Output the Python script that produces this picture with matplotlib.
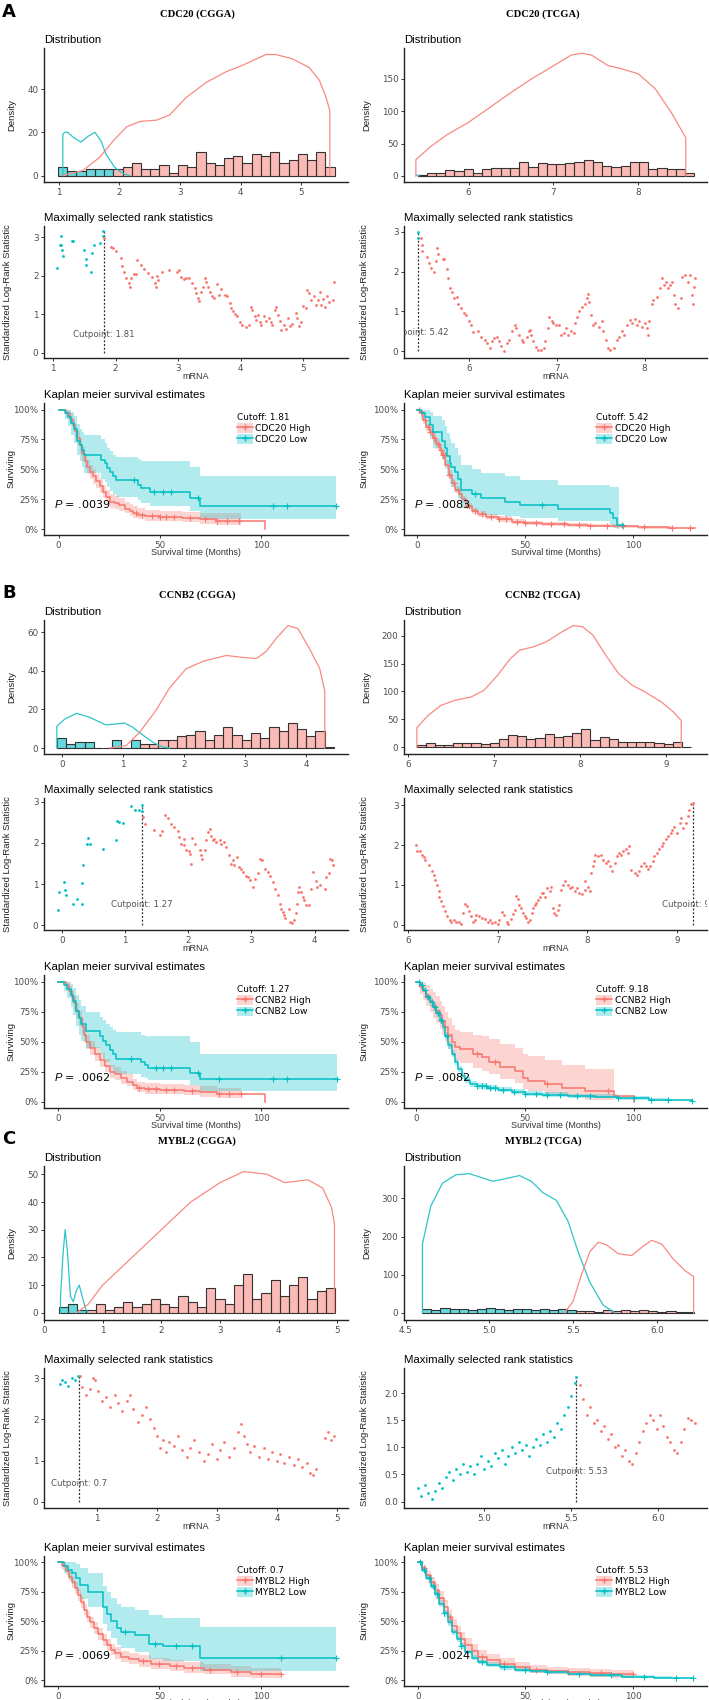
import matplotlib
matplotlib.use("Agg")
import matplotlib.pyplot as plt
from matplotlib.lines import Line2D
from matplotlib.patches import Patch
from matplotlib.colors import to_rgba
import numpy as np

plt.rcParams.update({
    "font.family": ["DejaVu Sans"],
    "mathtext.fontset": "custom",
    "mathtext.rm": "Liberation Sans",
    "mathtext.it": "Liberation Sans:italic",
})

RED = "#F8766D"
CYAN = "#00BFC4"
W, H = 709, 1700

# ── Distribution panels: histogram bins + density curves ─────────────────────
A1_BINW = 0.152
A1_LOW0, A1_LOW = 0.99, [4, 2, 2, 3, 3, 3]
A1_HIGH0, A1_HIGH = 1.902, [3, 4, 6, 3, 3, 5, 1, 5, 4, 11, 6, 5, 8, 9, 6, 10, 9, 11, 6, 7, 10, 7, 11, 4]
A1_DENS_LOW = [(1.07, 0), (1.07, 19), (1.1, 20), (1.15, 20), (1.25, 17.5), (1.37, 15.5), (1.48, 18),
               (1.6, 20), (1.7, 16), (1.78, 10), (1.85, 7), (1.92, 4), (2.0, 2), (2.1, 0.5), (2.17, 0)]
A1_DENS_HIGH = [(1.07, 0), (1.4, 2.3), (1.68, 8.5), (1.9, 16), (2.12, 22.5), (2.34, 25), (2.61, 25.6),
                (2.83, 28), (3.1, 36), (3.43, 43), (3.76, 48), (4.03, 51), (4.42, 56), (4.58, 56),
                (4.85, 54), (5.13, 50), (5.3, 44), (5.41, 36), (5.47, 30), (5.47, 0)]

A2_BINW = 0.1087
A2_LOW0, A2_LOW = 5.40, [1]
A2_HIGH0, A2_HIGH = 5.40, [2, 5, 5, 9, 7, 11, 5, 11, 12, 12, 12, 21, 13, 20, 19, 18, 20, 21, 24, 21,
                          15, 14, 15, 21, 22, 11, 12, 11, 10, 4]
A2_DENS_LOW = [(5.38, 0), (5.40, 1.5), (5.42, 0)]
A2_DENS_HIGH = [(5.38, 0), (5.38, 25), (5.55, 45), (5.75, 64), (5.99, 82), (6.22, 103), (6.5, 129),
                (6.74, 150), (7.01, 171), (7.21, 187), (7.33, 190), (7.45, 187), (7.64, 171), (7.8, 166),
                (8.0, 158), (8.2, 135), (8.39, 98), (8.56, 59), (8.56, 0)]

B1_BINW = 0.151
B1_LOW0, B1_LOW = -0.08, [5, 2, 3, 3, 0, 0, 4, 0, 4]
B1_HIGH0, B1_HIGH = 1.279, [2, 2, 4, 4, 6, 7, 9, 4, 7, 11, 7, 4, 8, 5, 11, 9, 13, 10, 6, 9, 0.5]
B1_DENS_LOW = [(-0.08, 0), (-0.08, 11.3), (0.05, 15), (0.24, 18), (0.45, 16), (0.72, 12), (0.9, 12.5),
               (1.02, 13), (1.15, 11), (1.27, 8), (1.49, 3), (1.65, 0.5), (1.76, 0)]
B1_DENS_HIGH = [(0.78, 0), (1.05, 1.2), (1.27, 8), (1.54, 19.5), (1.76, 31), (2.03, 41), (2.31, 45),
                (2.69, 48), (2.96, 47), (3.18, 46.4), (3.34, 50), (3.51, 57), (3.7, 63.5), (3.86, 62),
                (4.05, 51.6), (4.22, 41), (4.30, 29.4), (4.30, 0)]

B2_BINW = 0.1066
B2_LOW0, B2_LOW = 6.096, []
B2_HIGH0, B2_HIGH = 6.096, [4, 7, 5, 5, 8, 8, 8, 6, 7, 14, 22, 20, 14, 17, 24, 19, 20, 25, 32, 13,
                           19, 14, 9, 10, 10, 10, 7, 6, 9, 1]
B2_DENS_LOW = []
B2_DENS_HIGH = [(6.10, 0), (6.10, 35), (6.23, 57), (6.38, 75), (6.54, 84), (6.73, 90), (6.88, 102),
                (7.04, 129), (7.19, 159), (7.30, 174), (7.46, 180), (7.61, 189), (7.76, 204), (7.92, 218),
                (8.03, 216), (8.15, 201), (8.30, 165), (8.45, 132), (8.61, 111), (8.76, 99), (8.95, 81),
                (9.09, 63), (9.18, 48), (9.18, 0)]

C1_BINW = 0.157
C1_LOW0, C1_LOW = 0.25, [2, 3, 1]
C1_HIGH0, C1_HIGH = 0.721, [1, 3, 1, 2, 4, 2, 3, 5, 3, 2, 6, 4, 2, 9, 5, 3, 10, 14, 5, 7, 12, 6,
                            10, 13, 5, 8, 9]
C1_DENS_LOW = [(0.28, 0), (0.28, 5), (0.32, 20), (0.36, 30), (0.40, 22), (0.45, 6), (0.50, 4), (0.55, 8),
               (0.60, 10), (0.65, 6), (0.70, 2), (0.75, 0)]
C1_DENS_HIGH = [(0.55, 0), (0.75, 3), (1.0, 10), (1.5, 20), (2.0, 30), (2.5, 40), (3.0, 47), (3.4, 51),
                (3.8, 50), (4.1, 47), (4.5, 48), (4.75, 45), (4.9, 38), (4.95, 32), (4.95, 0)]

C2_BINW = 0.054
C2_LOW0, C2_LOW = 4.60, [10, 8, 12, 9, 11, 8, 10, 12, 9, 7, 11, 10, 8, 9, 6, 10, 8]
C2_HIGH0, C2_HIGH = 5.518, [4, 5, 3, 6, 5, 7, 4, 6, 5, 3, 4, 2, 3]
C2_DENS_LOW = [(4.6, 0), (4.6, 180), (4.65, 280), (4.72, 340), (4.8, 362), (4.88, 365), (4.95, 355),
               (5.02, 345), (5.1, 352), (5.18, 360), (5.25, 345), (5.32, 315), (5.4, 295), (5.47, 240),
               (5.53, 160), (5.6, 80), (5.68, 20), (5.75, 0)]
C2_DENS_HIGH = [(5.45, 0), (5.5, 30), (5.55, 100), (5.6, 160), (5.65, 185), (5.7, 178), (5.77, 155),
                (5.85, 150), (5.92, 175), (5.97, 190), (6.03, 180), (6.1, 140), (6.17, 110), (6.22, 95),
                (6.22, 0)]

# ── Maximally selected rank statistics: (mRNA, statistic) ────────────────────
A1_CUT = 1.81
A1_MS_LOW = [(1.07, 2.20), (1.11, 2.80), (1.12, 3.03), (1.13, 2.80), (1.15, 2.66), (1.16, 2.50),
             (1.30, 2.91), (1.32, 2.89), (1.49, 2.67), (1.52, 2.44), (1.53, 2.28), (1.60, 2.11),
             (1.63, 2.60), (1.66, 2.80), (1.75, 2.86), (1.80, 3.15), (1.80, 3.02)]
A1_MS_HIGH = [(1.81, 2.97), (1.93, 2.74), (1.96, 2.72), (2.01, 2.63), (2.08, 2.46), (2.11, 2.26),
              (2.13, 2.09), (2.17, 1.94), (2.22, 1.81), (2.23, 1.72), (2.25, 1.94), (2.29, 2.05),
              (2.32, 2.04), (2.35, 2.41), (2.40, 2.28), (2.46, 2.18), (2.52, 2.07), (2.59, 1.97),
              (2.63, 1.81), (2.65, 1.72), (2.66, 2.00), (2.68, 1.90), (2.75, 2.11), (2.86, 2.14),
              (2.98, 2.09), (3.02, 2.16), (3.05, 1.98), (3.09, 1.91), (3.13, 1.94), (3.18, 1.94),
              (3.23, 1.81), (3.27, 1.68), (3.29, 1.55), (3.32, 1.42), (3.34, 1.34), (3.36, 1.59),
              (3.40, 1.72), (3.43, 1.94), (3.45, 1.85), (3.48, 1.72), (3.51, 1.59), (3.54, 1.47),
              (3.57, 1.42), (3.62, 1.79), (3.65, 1.51), (3.68, 1.66), (3.75, 1.51), (3.78, 1.47),
              (3.83, 1.29), (3.85, 1.16), (3.88, 1.08), (3.91, 1.02), (3.94, 0.97), (3.99, 0.79),
              (4.03, 0.73), (4.09, 0.67), (4.14, 0.73), (4.16, 1.19), (4.19, 1.12), (4.23, 0.97),
              (4.25, 0.86), (4.28, 0.99), (4.31, 0.79), (4.33, 0.73), (4.37, 0.95), (4.41, 0.82),
              (4.46, 0.91), (4.48, 0.79), (4.51, 0.73), (4.55, 1.12), (4.57, 1.19), (4.60, 0.99),
              (4.63, 0.82), (4.65, 0.60), (4.69, 0.73), (4.73, 0.62), (4.76, 0.91), (4.79, 0.69),
              (4.83, 0.76), (4.88, 1.03), (4.90, 0.91), (4.94, 0.71), (4.97, 0.79), (5.00, 1.21),
              (5.04, 1.16), (5.06, 1.64), (5.10, 1.55), (5.13, 1.38), (5.17, 1.48), (5.20, 1.25),
              (5.24, 1.38), (5.27, 1.59), (5.29, 1.25), (5.32, 1.40), (5.35, 1.19), (5.38, 1.48),
              (5.42, 1.31), (5.48, 1.38), (5.50, 1.83)]

A2_CUT = 5.42
A2_MS_LOW = [(5.42, 3.00), (5.42, 2.84)]
A2_MS_HIGH = [(5.45, 2.84), (5.46, 2.66), (5.47, 2.53), (5.52, 2.37), (5.54, 2.22), (5.57, 2.09),
              (5.60, 1.99), (5.63, 2.28), (5.64, 2.59), (5.65, 2.45), (5.70, 2.31), (5.72, 2.32),
              (5.75, 2.07), (5.76, 1.83), (5.78, 1.58), (5.81, 1.48), (5.83, 1.33), (5.86, 1.37),
              (5.88, 1.20), (5.91, 1.08), (5.94, 0.95), (5.97, 0.91), (6.00, 0.75), (6.02, 0.66),
              (6.04, 0.48), (6.10, 0.50), (6.14, 0.37), (6.18, 0.29), (6.21, 0.21), (6.24, 0.08),
              (6.26, 0.25), (6.29, 0.33), (6.32, 0.37), (6.34, 0.25), (6.37, 0.12), (6.40, 0.00),
              (6.43, 0.21), (6.46, 0.29), (6.49, 0.50), (6.52, 0.66), (6.54, 0.58), (6.57, 0.42),
              (6.60, 0.29), (6.62, 0.23), (6.66, 0.37), (6.68, 0.50), (6.70, 0.54), (6.71, 0.42),
              (6.73, 0.25), (6.76, 0.10), (6.79, 0.02), (6.82, 0.04), (6.85, 0.08), (6.87, 0.25),
              (6.90, 0.58), (6.91, 0.87), (6.94, 0.75), (6.96, 0.71), (6.99, 0.66), (7.02, 0.65),
              (7.05, 0.42), (7.08, 0.46), (7.10, 0.58), (7.13, 0.42), (7.16, 0.50), (7.19, 0.46),
              (7.21, 0.71), (7.23, 0.87), (7.25, 1.00), (7.29, 1.12), (7.32, 1.20), (7.34, 1.33),
              (7.36, 1.45), (7.37, 1.24), (7.39, 0.91), (7.41, 0.66), (7.44, 0.71), (7.48, 0.62),
              (7.51, 0.75), (7.53, 0.50), (7.56, 0.29), (7.58, 0.08), (7.61, 0.02), (7.65, 0.08),
              (7.68, 0.29), (7.71, 0.37), (7.74, 0.50), (7.77, 0.42), (7.80, 0.66), (7.83, 0.79),
              (7.86, 0.71), (7.89, 0.81), (7.91, 0.66), (7.94, 0.75), (7.97, 0.62), (8.00, 0.71),
              (8.03, 0.58), (8.04, 0.42), (8.05, 0.75), (8.08, 1.20), (8.10, 1.29), (8.14, 1.37),
              (8.17, 1.58), (8.20, 1.84), (8.22, 1.66), (8.24, 1.74), (8.27, 1.58), (8.29, 1.66),
              (8.31, 1.74), (8.33, 1.41), (8.35, 1.20), (8.38, 1.08), (8.41, 1.33), (8.43, 1.87),
              (8.46, 1.91), (8.49, 1.74), (8.52, 1.91), (8.54, 1.41), (8.55, 1.20), (8.56, 1.62),
              (8.57, 1.83)]

B1_CUT = 1.27
B1_MS_LOW = [(-0.07, 0.37), (-0.05, 0.81), (0.03, 1.05), (0.04, 0.85), (0.07, 0.75), (0.18, 0.53),
             (0.23, 0.65), (0.31, 0.51), (0.32, 1.04), (0.33, 1.46), (0.41, 2.12), (0.40, 1.98),
             (0.44, 1.98), (0.65, 1.86), (0.85, 2.08), (0.87, 2.54), (0.90, 2.52), (0.96, 2.49),
             (1.10, 2.90), (1.15, 2.80), (1.22, 2.80), (1.27, 2.93), (1.27, 2.78)]
B1_MS_HIGH = [(1.29, 2.62), (1.32, 2.45), (1.45, 2.32), (1.55, 2.20), (1.59, 2.30), (1.63, 2.69),
              (1.68, 2.61), (1.73, 2.45), (1.77, 2.38), (1.84, 2.30), (1.86, 2.14), (1.89, 1.98),
              (1.93, 1.94), (1.94, 2.10), (1.97, 1.82), (2.01, 1.80), (2.03, 1.74), (2.05, 1.50),
              (2.06, 2.12), (2.10, 1.98), (2.18, 1.82), (2.20, 1.70), (2.22, 1.62), (2.26, 1.82),
              (2.28, 2.06), (2.31, 2.26), (2.34, 2.34), (2.36, 2.16), (2.39, 2.08), (2.41, 2.10),
              (2.44, 2.02), (2.50, 2.06), (2.52, 1.98), (2.56, 2.02), (2.59, 1.90), (2.65, 1.70),
              (2.68, 1.50), (2.71, 1.58), (2.73, 1.46), (2.77, 1.66), (2.80, 1.42), (2.84, 1.38),
              (2.87, 1.30), (2.91, 1.21), (2.94, 1.17), (2.97, 1.11), (3.02, 0.93), (3.06, 1.13),
              (3.10, 1.26), (3.14, 1.62), (3.17, 1.58), (3.21, 1.38), (3.26, 1.30), (3.29, 1.21),
              (3.34, 1.05), (3.38, 0.89), (3.42, 0.73), (3.45, 0.53), (3.47, 0.41), (3.50, 0.33),
              (3.52, 0.25), (3.54, 0.17), (3.60, 0.41), (3.61, 0.09), (3.65, 0.05), (3.68, 0.13),
              (3.70, 0.31), (3.72, 0.53), (3.74, 0.81), (3.76, 0.93), (3.79, 0.81), (3.82, 0.69),
              (3.84, 0.61), (3.87, 0.49), (3.91, 0.49), (3.95, 0.89), (3.98, 1.30), (4.02, 1.09),
              (4.04, 0.93), (4.09, 0.97), (4.16, 0.89), (4.18, 1.17), (4.23, 1.26), (4.25, 1.62),
              (4.28, 1.58), (4.30, 1.46)]

B2_CUT = 9.18
B2_MS_LOW = []
B2_MS_HIGH = [(6.09, 2.01), (6.10, 1.86), (6.13, 1.84), (6.16, 1.76), (6.18, 1.70), (6.19, 1.63),
              (6.23, 1.51), (6.27, 1.34), (6.29, 1.26), (6.30, 1.13), (6.32, 1.00), (6.34, 0.84),
              (6.35, 0.71), (6.37, 0.59), (6.39, 0.46), (6.41, 0.34), (6.44, 0.21), (6.47, 0.13),
              (6.48, 0.08), (6.51, 0.13), (6.54, 0.08), (6.57, 0.06), (6.59, 0.02), (6.61, 0.29),
              (6.64, 0.53), (6.66, 0.46), (6.68, 0.34), (6.70, 0.21), (6.72, 0.08), (6.75, 0.13),
              (6.76, 0.25), (6.79, 0.21), (6.82, 0.17), (6.86, 0.14), (6.89, 0.08), (6.91, 0.13),
              (6.94, 0.04), (6.97, 0.08), (7.00, 0.03), (7.02, 0.13), (7.05, 0.31), (7.07, 0.25),
              (7.10, 0.08), (7.12, 0.03), (7.15, 0.14), (7.17, 0.28), (7.19, 0.38), (7.21, 0.73),
              (7.23, 0.65), (7.24, 0.50), (7.26, 0.42), (7.28, 0.29), (7.30, 0.21), (7.32, 0.17),
              (7.34, 0.08), (7.36, 0.13), (7.38, 0.29), (7.40, 0.42), (7.42, 0.50), (7.43, 0.54),
              (7.45, 0.63), (7.47, 0.71), (7.49, 0.80), (7.51, 0.81), (7.53, 0.71), (7.55, 0.92),
              (7.58, 0.84), (7.60, 0.96), (7.62, 0.42), (7.63, 0.29), (7.65, 0.25), (7.67, 0.38),
              (7.68, 0.50), (7.71, 0.88), (7.73, 1.01), (7.75, 1.09), (7.78, 1.01), (7.81, 0.92),
              (7.83, 0.96), (7.86, 0.84), (7.88, 0.92), (7.91, 0.80), (7.94, 0.78), (7.97, 0.88),
              (7.98, 1.09), (8.01, 0.96), (8.03, 0.84), (8.04, 1.30), (8.06, 1.47), (8.08, 1.59),
              (8.09, 1.76), (8.12, 1.72), (8.15, 1.76), (8.18, 1.63), (8.21, 1.55), (8.23, 1.59),
              (8.25, 1.47), (8.28, 1.34), (8.31, 1.55), (8.33, 1.72), (8.35, 1.80), (8.38, 1.76),
              (8.40, 1.84), (8.43, 1.89), (8.45, 1.80), (8.47, 1.97), (8.49, 1.38), (8.53, 1.30),
              (8.55, 1.26), (8.58, 1.34), (8.60, 1.47), (8.63, 1.55), (8.65, 1.47), (8.68, 1.40),
              (8.70, 1.47), (8.73, 1.59), (8.75, 1.72), (8.78, 1.80), (8.80, 1.89), (8.83, 1.97),
              (8.85, 2.04), (8.88, 2.14), (8.90, 2.22), (8.93, 2.31), (8.95, 2.39), (8.97, 2.46),
              (9.00, 2.31), (9.03, 2.56), (9.05, 2.68), (9.07, 2.43), (9.10, 2.56), (9.12, 2.74),
              (9.14, 2.89), (9.16, 3.02), (9.18, 3.06)]

C1_CUT = 0.7
C1_MS_LOW = [(0.38, 2.85), (0.42, 2.95), (0.47, 2.90), (0.52, 2.82), (0.58, 3.00), (0.63, 2.95), (0.68, 3.05)]
C1_MS_HIGH = [(0.72, 3.05), (0.75, 2.80), (0.82, 2.60), (0.88, 2.75), (0.93, 3.00), (0.97, 2.95),
              (1.02, 2.70), (1.08, 2.45), (1.15, 2.55), (1.22, 2.30), (1.30, 2.60), (1.36, 2.40),
              (1.42, 2.20), (1.50, 2.45), (1.55, 2.60), (1.60, 2.25), (1.68, 1.95), (1.75, 2.10),
              (1.82, 2.30), (1.88, 2.00), (1.95, 1.80), (2.00, 1.60), (2.05, 1.30), (2.10, 1.50),
              (2.15, 1.20), (2.20, 1.45), (2.28, 1.35), (2.35, 1.60), (2.42, 1.25), (2.50, 1.10),
              (2.55, 1.30), (2.62, 1.50), (2.70, 1.20), (2.78, 1.00), (2.85, 1.15), (2.92, 1.40),
              (3.00, 1.05), (3.05, 1.25), (3.12, 1.45), (3.20, 1.10), (3.28, 1.30), (3.35, 1.70),
              (3.40, 1.90), (3.45, 1.60), (3.50, 1.40), (3.55, 1.20), (3.62, 1.35), (3.70, 1.10),
              (3.78, 1.30), (3.85, 1.05), (3.92, 1.20), (4.00, 1.00), (4.05, 1.15), (4.12, 0.95),
              (4.20, 1.10), (4.28, 0.90), (4.35, 1.05), (4.42, 0.85), (4.50, 0.95), (4.55, 0.70),
              (4.60, 0.65), (4.65, 0.80), (4.80, 1.55), (4.85, 1.70), (4.90, 1.50), (4.95, 1.60)]

C2_CUT = 5.53
C2_MS_LOW = [(4.62, 0.25), (4.64, 0.10), (4.66, 0.30), (4.68, 0.15), (4.70, 0.05), (4.72, 0.20),
             (4.74, 0.35), (4.76, 0.25), (4.78, 0.45), (4.80, 0.55), (4.82, 0.40), (4.84, 0.60),
             (4.86, 0.50), (4.88, 0.70), (4.90, 0.55), (4.92, 0.65), (4.94, 0.50), (4.96, 0.70),
             (4.98, 0.85), (5.00, 0.60), (5.02, 0.75), (5.04, 0.65), (5.06, 0.90), (5.08, 0.80),
             (5.10, 0.95), (5.12, 0.70), (5.14, 0.85), (5.16, 1.00), (5.18, 0.90), (5.20, 1.10),
             (5.22, 0.95), (5.24, 1.05), (5.26, 0.85), (5.28, 1.00), (5.30, 1.15), (5.32, 1.05),
             (5.34, 1.25), (5.36, 1.10), (5.38, 1.30), (5.40, 1.20), (5.42, 1.45), (5.44, 1.35),
             (5.46, 1.60), (5.48, 1.75), (5.50, 1.95), (5.52, 2.20), (5.53, 2.30)]
C2_MS_HIGH = [(5.55, 2.15), (5.57, 1.90), (5.59, 1.60), (5.61, 1.75), (5.63, 1.45), (5.65, 1.50),
              (5.67, 1.30), (5.69, 1.40), (5.71, 1.15), (5.73, 1.25), (5.75, 1.00), (5.77, 1.05),
              (5.79, 0.85), (5.81, 0.95), (5.83, 0.75), (5.85, 0.70), (5.87, 0.90), (5.89, 1.10),
              (5.91, 1.30), (5.93, 1.45), (5.95, 1.60), (5.97, 1.50), (5.99, 1.35), (6.01, 1.60),
              (6.03, 1.40), (6.05, 1.20), (6.07, 1.10), (6.09, 0.95), (6.11, 0.90), (6.13, 1.10),
              (6.15, 1.35), (6.17, 1.55), (6.19, 1.50), (6.21, 1.45)]

# ── Kaplan-Meier: steps (t, S), CI bands (t, lower, upper), censor times ─────
A1_KM_HIGH = [(0, 1.0), (3.8, 0.97), (5.4, 0.92), (7.1, 0.87), (7.9, 0.82), (9.0, 0.76), (10.4, 0.70),
              (11.7, 0.63), (12.8, 0.57), (14.0, 0.52), (15.3, 0.48), (17.0, 0.44), (18.6, 0.40),
              (20.2, 0.36), (21.9, 0.31), (23.5, 0.27), (25.2, 0.23), (27.6, 0.22), (30.0, 0.20),
              (32.6, 0.17), (35.0, 0.15), (36.7, 0.13), (39.0, 0.12), (42.4, 0.11), (50.0, 0.10),
              (61.0, 0.09), (69.6, 0.08), (77.8, 0.07), (101.6, 0.0)]
A1_CI_HIGH = [(0, 1.0, 1.0), (3.8, 0.94, 1.0), (5.4, 0.88, 0.96), (7.1, 0.82, 0.92), (7.9, 0.77, 0.88),
              (9.0, 0.70, 0.82), (10.4, 0.64, 0.76), (11.7, 0.57, 0.69), (12.8, 0.51, 0.63),
              (14.0, 0.46, 0.58), (15.3, 0.42, 0.54), (17.0, 0.38, 0.50), (18.6, 0.34, 0.46),
              (20.2, 0.30, 0.42), (21.9, 0.26, 0.37), (23.5, 0.22, 0.33), (25.2, 0.18, 0.29),
              (27.6, 0.17, 0.28), (30.0, 0.15, 0.26), (32.6, 0.13, 0.23), (35.0, 0.11, 0.21),
              (36.7, 0.09, 0.19), (39.0, 0.08, 0.18), (42.4, 0.07, 0.16), (50.0, 0.065, 0.15),
              (61.0, 0.055, 0.14), (69.6, 0.045, 0.135), (77.8, 0.035, 0.13), (90.0, 0.035, 0.13)]
A1_CENS_HIGH = [38, 41, 46, 50, 53, 57, 65, 72, 78, 83, 89]
A1_KM_LOW = [(0, 1.0), (3.0, 0.97), (4.6, 0.94), (6.2, 0.89), (7.4, 0.84), (9.0, 0.74), (10.4, 0.70),
             (11.5, 0.66), (12.3, 0.62), (21.0, 0.58), (22.7, 0.55), (23.8, 0.51), (25.2, 0.48),
             (26.8, 0.44), (28.1, 0.41), (39.0, 0.37), (40.8, 0.34), (44.9, 0.31), (65.0, 0.26),
             (69.6, 0.19), (137.0, 0.19)]
A1_CI_LOW = [(0, 1.0, 1.0), (3.0, 0.92, 1.0), (4.6, 0.86, 1.0), (6.2, 0.79, 0.98), (7.4, 0.72, 0.95),
             (9.0, 0.62, 0.88), (10.4, 0.57, 0.84), (11.5, 0.52, 0.81), (12.3, 0.47, 0.79),
             (21.0, 0.42, 0.75), (22.7, 0.39, 0.72), (23.8, 0.35, 0.68), (25.2, 0.32, 0.65),
             (26.8, 0.29, 0.62), (28.1, 0.27, 0.60), (39.0, 0.24, 0.59), (40.8, 0.22, 0.57),
             (44.9, 0.19, 0.57), (65.0, 0.15, 0.52), (69.6, 0.08, 0.44), (137.0, 0.08, 0.44)]
A1_CENS_LOW = [37, 47, 51.5, 55.6, 68.7, 105.7, 112.7, 137]

A2_KM_HIGH = [(0, 1.0), (1.2, 0.98), (2.8, 0.91), (4.3, 0.85), (5.9, 0.81), (7.4, 0.76), (9.0, 0.71),
              (10.5, 0.66), (11.6, 0.62), (13.1, 0.54), (14.7, 0.455), (16.2, 0.386), (17.7, 0.33),
              (19.3, 0.29), (20.8, 0.25), (22.8, 0.193), (25.2, 0.15), (28.2, 0.124), (32, 0.102),
              (37.5, 0.083), (43.7, 0.063), (49.8, 0.05), (57.6, 0.041), (70, 0.033), (79, 0.028),
              (91.5, 0.022), (102, 0.014), (116, 0.011), (128.5, 0.008)]
A2_CI_HIGH = [(0, 1.0, 1.0), (1.2, 0.96, 1.0), (2.8, 0.88, 0.94), (4.3, 0.82, 0.88), (5.9, 0.78, 0.84),
              (7.4, 0.72, 0.80), (9.0, 0.67, 0.75), (10.5, 0.62, 0.70), (11.6, 0.58, 0.66),
              (13.1, 0.50, 0.58), (14.7, 0.42, 0.49), (16.2, 0.35, 0.42), (17.7, 0.30, 0.36),
              (19.3, 0.26, 0.32), (20.8, 0.22, 0.28), (22.8, 0.165, 0.22), (25.2, 0.125, 0.18),
              (28.2, 0.10, 0.15), (32, 0.08, 0.125), (37.5, 0.063, 0.105), (43.7, 0.045, 0.083),
              (49.8, 0.034, 0.068), (57.6, 0.026, 0.058), (70, 0.019, 0.05), (79, 0.015, 0.043),
              (91.5, 0.010, 0.036), (102, 0.004, 0.026), (116, 0.002, 0.022), (118, 0.002, 0.022)]
A2_CENS_HIGH = [1, 2, 3.5, 5, 6, 7, 8, 9.5, 11, 12, 13, 15, 17, 19, 24, 27, 30, 34, 38, 41, 46, 50, 55,
                62, 68, 75, 80, 88, 95, 105, 118, 126]
A2_KM_LOW = [(0, 1.0), (2, 0.97), (3.5, 0.94), (5.9, 0.87), (7.4, 0.81), (11.6, 0.74), (12.8, 0.68),
             (13.9, 0.61), (15.1, 0.55), (15.9, 0.52), (17.4, 0.48), (19.0, 0.42), (20.5, 0.33),
             (25.2, 0.29), (29.8, 0.26), (40.6, 0.23), (47.5, 0.20), (65.3, 0.17), (89.0, 0.13),
             (90.7, 0.09), (92.3, 0.03), (95.4, 0.03)]
A2_CI_LOW = [(0, 1.0, 1.0), (2, 0.92, 1.0), (3.5, 0.86, 1.0), (5.9, 0.76, 0.98), (7.4, 0.68, 0.95),
             (11.6, 0.59, 0.91), (12.8, 0.52, 0.86), (13.9, 0.45, 0.80), (15.1, 0.38, 0.75),
             (15.9, 0.35, 0.72), (17.4, 0.31, 0.68), (19.0, 0.25, 0.62), (20.5, 0.18, 0.54),
             (25.2, 0.15, 0.50), (29.8, 0.12, 0.47), (40.6, 0.11, 0.44), (47.5, 0.09, 0.41),
             (65.3, 0.07, 0.37), (89.0, 0.04, 0.35), (90.7, 0.01, 0.35), (92.3, 0.0, 0.35), (93.5, 0.0, 0.35)]
A2_CENS_LOW = [27, 57.6, 94.5]

B1_KM_HIGH = [(0, 1.0), (3.8, 0.97), (5.4, 0.92), (7.1, 0.87), (7.9, 0.82), (9.0, 0.76), (10.4, 0.70),
              (11.7, 0.63), (12.8, 0.56), (13.6, 0.50), (15.5, 0.45), (18.0, 0.40), (20.5, 0.35),
              (23.0, 0.30), (25.4, 0.25), (28.0, 0.23), (31.0, 0.20), (34.0, 0.17), (36.9, 0.14),
              (39.0, 0.12), (42.6, 0.11), (50.0, 0.10), (62.0, 0.09), (69.7, 0.08), (78.0, 0.065),
              (101.6, 0.0)]
B1_CI_HIGH = [(0, 1.0, 1.0), (3.8, 0.94, 1.0), (5.4, 0.88, 0.96), (7.1, 0.82, 0.92), (7.9, 0.77, 0.88),
              (9.0, 0.70, 0.82), (10.4, 0.64, 0.76), (11.7, 0.57, 0.69), (12.8, 0.50, 0.62),
              (13.6, 0.44, 0.56), (15.5, 0.39, 0.51), (18.0, 0.34, 0.46), (20.5, 0.29, 0.41),
              (23.0, 0.25, 0.36), (25.4, 0.20, 0.31), (28.0, 0.18, 0.29), (31.0, 0.15, 0.26),
              (34.0, 0.13, 0.23), (36.9, 0.10, 0.19), (39.0, 0.08, 0.17), (42.6, 0.07, 0.16),
              (50.0, 0.065, 0.15), (62.0, 0.055, 0.14), (69.7, 0.045, 0.13), (78.0, 0.03, 0.12),
              (90.0, 0.03, 0.12)]
B1_CENS_HIGH = [40, 44, 48, 53, 57, 66, 79, 84, 90]
B1_KM_LOW = [(0, 1.0), (3, 0.97), (4.6, 0.94), (6.2, 0.89), (7.4, 0.84), (9.0, 0.76), (10.4, 0.70),
             (11.5, 0.65), (13.6, 0.59), (20.5, 0.55), (22.1, 0.51), (23.8, 0.47), (25.4, 0.43),
             (27.0, 0.40), (28.4, 0.36), (40.9, 0.33), (42.6, 0.31), (44.3, 0.28), (65.0, 0.24),
             (69.7, 0.19), (137, 0.19)]
B1_CI_LOW = [(0, 1.0, 1.0), (3, 0.92, 1.0), (4.6, 0.86, 1.0), (6.2, 0.79, 0.98), (7.4, 0.72, 0.95),
             (9.0, 0.63, 0.89), (10.4, 0.56, 0.85), (11.5, 0.51, 0.80), (13.6, 0.45, 0.75),
             (20.5, 0.40, 0.71), (22.1, 0.36, 0.68), (23.8, 0.33, 0.65), (25.4, 0.29, 0.62),
             (27.0, 0.26, 0.60), (28.4, 0.23, 0.58), (40.9, 0.21, 0.56), (42.6, 0.20, 0.55),
             (44.3, 0.18, 0.55), (65.0, 0.14, 0.50), (69.7, 0.09, 0.40), (137, 0.09, 0.40)]
B1_CENS_LOW = [36, 48, 51.6, 55.7, 68.9, 79, 105.7, 112.6, 137]

B2_KM_HIGH = [(0, 1.0), (1.5, 0.96), (3.0, 0.92), (4.6, 0.88), (6.2, 0.84), (7.7, 0.80), (9.2, 0.76),
              (10.8, 0.72), (11.8, 0.67), (13.1, 0.62), (14.6, 0.56), (16.2, 0.50), (17.7, 0.46),
              (20.0, 0.44), (26.2, 0.40), (30.0, 0.37), (33.5, 0.335), (38.5, 0.29), (45.4, 0.26),
              (49.2, 0.20), (51.5, 0.175), (59.2, 0.15), (66.9, 0.12), (77.7, 0.09), (90.8, 0.05),
              (100.0, 0.0)]
B2_CI_HIGH = [(0, 1.0, 1.0), (1.5, 0.90, 1.0), (3.0, 0.85, 1.0), (4.6, 0.80, 0.97), (6.2, 0.75, 0.94),
              (7.7, 0.70, 0.91), (9.2, 0.66, 0.88), (10.8, 0.61, 0.84), (11.8, 0.56, 0.80),
              (13.1, 0.50, 0.75), (14.6, 0.44, 0.70), (16.2, 0.38, 0.64), (17.7, 0.34, 0.60),
              (20.0, 0.32, 0.58), (26.2, 0.28, 0.56), (30.0, 0.26, 0.55), (33.5, 0.23, 0.52),
              (38.5, 0.19, 0.48), (45.4, 0.16, 0.45), (49.2, 0.11, 0.40), (51.5, 0.09, 0.38),
              (59.2, 0.07, 0.35), (66.9, 0.05, 0.31), (77.7, 0.02, 0.27), (91.0, 0.02, 0.27)]
B2_CENS_HIGH = [2, 5, 8, 12, 28, 36, 60, 88]
B2_KM_LOW = [(0, 1.0), (1.5, 0.97), (3.1, 0.93), (4.6, 0.87), (6.2, 0.83), (7.7, 0.79), (9.2, 0.74),
             (10.8, 0.68), (12.3, 0.62), (13.4, 0.55), (14.6, 0.47), (16.2, 0.40), (17.7, 0.33),
             (19.2, 0.27), (20.8, 0.22), (22.3, 0.18), (24.6, 0.15), (27.7, 0.13), (32.3, 0.12),
             (37.7, 0.10), (43.8, 0.085), (50, 0.07), (57.7, 0.06), (70, 0.05), (82.3, 0.045),
             (93, 0.03), (107, 0.02), (116, 0.015), (127, 0.01)]
B2_CI_LOW = [(0, 1.0, 1.0), (1.5, 0.95, 0.99), (3.1, 0.91, 0.95), (4.6, 0.85, 0.90), (6.2, 0.80, 0.86),
             (7.7, 0.76, 0.82), (9.2, 0.71, 0.77), (10.8, 0.65, 0.71), (12.3, 0.59, 0.65),
             (13.4, 0.52, 0.58), (14.6, 0.44, 0.50), (16.2, 0.37, 0.43), (17.7, 0.30, 0.36),
             (19.2, 0.245, 0.30), (20.8, 0.195, 0.25), (22.3, 0.155, 0.21), (24.6, 0.128, 0.175),
             (27.7, 0.108, 0.155), (32.3, 0.098, 0.145), (37.7, 0.08, 0.122), (43.8, 0.066, 0.106),
             (50, 0.052, 0.09), (57.7, 0.043, 0.079), (70, 0.034, 0.068), (82.3, 0.029, 0.063),
             (93, 0.016, 0.046), (107, 0.008, 0.034), (116, 0.005, 0.027), (118, 0.005, 0.027)]
B2_CENS_LOW = [1, 2.5, 4, 5.5, 7, 8.5, 10, 11.5, 14, 28, 30, 32, 34, 36, 40, 45, 50, 55, 60, 66, 74, 80,
               93, 100, 108, 116, 127]

C1_KM_HIGH = [(0, 1.0), (2, 0.97), (4, 0.93), (5.5, 0.88), (7, 0.83), (8.5, 0.78), (10, 0.72),
              (11.5, 0.66), (13, 0.60), (14.5, 0.54), (16, 0.49), (18, 0.44), (20, 0.39), (22, 0.34),
              (24, 0.30), (26, 0.26), (28, 0.23), (31, 0.20), (35, 0.18), (40, 0.16), (46, 0.14),
              (55, 0.12), (62, 0.10), (72, 0.09), (85, 0.07), (95, 0.05), (110, 0.05)]
C1_CI_HIGH = [(0, 1.0, 1.0), (2, 0.94, 1.0), (4, 0.89, 0.97), (5.5, 0.84, 0.92), (7, 0.78, 0.88),
              (8.5, 0.73, 0.83), (10, 0.67, 0.77), (11.5, 0.61, 0.71), (13, 0.55, 0.65), (14.5, 0.49, 0.59),
              (16, 0.44, 0.54), (18, 0.39, 0.49), (20, 0.34, 0.44), (22, 0.29, 0.39), (24, 0.25, 0.35),
              (26, 0.21, 0.31), (28, 0.18, 0.28), (31, 0.155, 0.25), (35, 0.135, 0.23), (40, 0.115, 0.21),
              (46, 0.095, 0.19), (55, 0.08, 0.17), (62, 0.06, 0.15), (72, 0.05, 0.14), (85, 0.03, 0.12),
              (95, 0.015, 0.10), (110, 0.015, 0.10)]
C1_CENS_HIGH = [42, 50, 58, 66, 75, 88, 100, 110]
C1_KM_LOW = [(0, 1.0), (3, 0.97), (5, 0.94), (7, 0.91), (9, 0.87), (11, 0.81), (15, 0.75), (22, 0.62),
             (24, 0.56), (26, 0.50), (29, 0.44), (31, 0.41), (38, 0.38), (45, 0.31), (52, 0.29),
             (70, 0.19), (137, 0.19)]
C1_CI_LOW = [(0, 1.0, 1.0), (3, 0.91, 1.0), (5, 0.86, 1.0), (7, 0.82, 1.0), (9, 0.76, 0.99),
             (11, 0.69, 0.95), (15, 0.62, 0.91), (22, 0.48, 0.80), (24, 0.42, 0.75), (26, 0.36, 0.70),
             (29, 0.30, 0.65), (31, 0.27, 0.62), (38, 0.24, 0.60), (45, 0.18, 0.55), (52, 0.16, 0.53),
             (70, 0.08, 0.45), (137, 0.08, 0.45)]
C1_CENS_LOW = [33, 48, 58, 66, 110, 137]

C2_KM_HIGH = [(0, 1.0), (2, 0.95), (4, 0.89), (6, 0.83), (8, 0.77), (10, 0.70), (12, 0.62), (14, 0.54),
              (16, 0.46), (18, 0.40), (20, 0.35), (22, 0.30), (25, 0.25), (28, 0.20), (32, 0.17),
              (38, 0.14), (45, 0.11), (52, 0.09), (60, 0.08), (70, 0.07), (80, 0.06), (90, 0.05),
              (100, 0.05)]
C2_CI_HIGH = [(0, 1.0, 1.0), (2, 0.92, 0.98), (4, 0.85, 0.93), (6, 0.78, 0.88), (8, 0.72, 0.82),
              (10, 0.65, 0.76), (12, 0.56, 0.68), (14, 0.48, 0.60), (16, 0.40, 0.52), (18, 0.34, 0.46),
              (20, 0.29, 0.41), (22, 0.24, 0.36), (25, 0.20, 0.31), (28, 0.15, 0.26), (32, 0.125, 0.22),
              (38, 0.10, 0.185), (45, 0.075, 0.15), (52, 0.058, 0.125), (60, 0.048, 0.115),
              (70, 0.038, 0.105), (80, 0.03, 0.095), (90, 0.02, 0.085), (100, 0.02, 0.085)]
C2_CENS_HIGH = [3, 6, 10, 15, 30, 40, 55, 70, 85, 100]
C2_KM_LOW = [(0, 1.0), (2, 0.94), (4, 0.87), (6, 0.80), (8, 0.73), (10, 0.65), (12, 0.57), (14, 0.49),
             (16, 0.41), (18, 0.35), (20, 0.29), (22, 0.24), (25, 0.19), (28, 0.155), (32, 0.13),
             (38, 0.11), (45, 0.09), (52, 0.075), (60, 0.065), (70, 0.055), (80, 0.045), (95, 0.03),
             (110, 0.02), (128, 0.02)]
C2_CI_LOW = [(0, 1.0, 1.0), (2, 0.92, 0.96), (4, 0.85, 0.89), (6, 0.775, 0.825), (8, 0.70, 0.76),
             (10, 0.62, 0.68), (12, 0.54, 0.60), (14, 0.46, 0.52), (16, 0.385, 0.435), (18, 0.325, 0.375),
             (20, 0.265, 0.315), (22, 0.22, 0.26), (25, 0.17, 0.21), (28, 0.135, 0.175), (32, 0.11, 0.15),
             (38, 0.09, 0.13), (45, 0.072, 0.11), (52, 0.058, 0.092), (60, 0.048, 0.082),
             (70, 0.04, 0.07), (80, 0.03, 0.06), (95, 0.018, 0.045), (110, 0.01, 0.035), (118, 0.01, 0.035)]
C2_CENS_LOW = [1, 3, 5, 7, 9, 12, 20, 30, 40, 50, 60, 75, 90, 105, 120, 128]

GENES = ["CDC20", "CCNB2", "MYBL2"]
P_VALUES = [[".0039", ".0083"], [".0062", ".0082"], [".0069", ".0024"]]

# ── Figure helpers ───────────────────────────────────────────────────────────
fig = plt.figure(figsize=(W / 100, H / 100), dpi=100)


def add_ax(box):
    l, t, r, b = box
    return fig.add_axes([l / W, 1 - b / H, (r - l) / W, (b - t) / H])


def frame(ax, box, title, xlim, ylim, xticks, yticks, xtl=None, ytl=None,
          ylabel="", ylab_px=12, xlabel="", xlab_gap=15):
    l, t, r, b = box
    ax.set_xlim(xlim)
    ax.set_ylim(ylim)
    ax.set_xticks(xticks)
    ax.set_yticks(yticks)
    ax.set_xticklabels(xtl if xtl else [f"{v:g}" for v in xticks])
    ax.set_yticklabels(ytl if ytl else [f"{v:g}" for v in yticks])
    for s in ("top", "right"):
        ax.spines[s].set_visible(False)
    for s in ("left", "bottom"):
        ax.spines[s].set_linewidth(1.0)
        ax.spines[s].set_color("#222222")
    ax.tick_params(length=2.5, width=0.7, color="#333333", labelsize=6.3,
                   labelcolor="#4D4D4D", pad=1.5)
    ax.set_title(title, loc="left", fontsize=8.2, family="Liberation Sans", pad=3.5)
    ax.set_ylabel(ylabel, fontsize=6.8, family="Liberation Sans", color="#222222")
    ax.yaxis.set_label_coords((ylab_px + 4 - l) / (r - l), 0.5)
    if xlabel:
        ax.set_xlabel(xlabel, fontsize=6.5, family="Liberation Sans", color="#333333")
        ax.xaxis.set_label_coords(0.5, -xlab_gap / (b - t))


def unzip(pairs):
    return [p[0] for p in pairs], [p[1] for p in pairs]


def draw_dist(box, binw, low0, low, high0, high, dens_low, dens_high, xlim, ylim, xticks, yticks,
              xtl=None, ylab_px=12):
    ax = add_ax(box)
    if low:
        ax.bar(low0 + binw * np.arange(len(low)), low, width=binw, align="edge",
               fc=to_rgba(CYAN, 0.6), ec="#333333", lw=0.8, zorder=2)
    if high:
        ax.bar(high0 + binw * np.arange(len(high)), high, width=binw, align="edge",
               fc=to_rgba(RED, 0.5), ec="#333333", lw=0.8, zorder=2)
    if dens_low:
        x, y = unzip(dens_low)
        ax.plot(x, y, color="#2CC5CA", lw=0.9, zorder=3)
    if dens_high:
        x, y = unzip(dens_high)
        ax.plot(x, y, color="#F88A82", lw=0.9, zorder=3)
    frame(ax, box, "Distribution", xlim, ylim, xticks, yticks, xtl=xtl, ylabel="Density", ylab_px=ylab_px)


def draw_maxstat(box, cut, ms_low, ms_high, xlim, ylim, xticks, yticks, xtl=None, ytl=None,
                 ylab_px=8, text_y=0.49):
    ax = add_ax(box)
    allpts = ms_low + ms_high
    top = max(p[1] for p in allpts)
    if ms_low:
        x, y = unzip(ms_low)
        ax.scatter(x, y, s=4, color=CYAN, lw=0, zorder=3)
    if ms_high:
        x, y = unzip(ms_high)
        ax.scatter(x, y, s=4, color=RED, lw=0, zorder=3)
    ax.plot([cut, cut], [0, top], color="#333333", lw=0.9, ls=(0, (1.6, 1.4)), zorder=2)
    ax.text(cut, text_y, f"Cutpoint: {cut:g}", ha="center", va="center", fontsize=6.2,
            color="#555555", clip_on=True, zorder=4)
    frame(ax, box, "Maximally selected rank statistics", xlim, ylim, xticks, yticks, xtl=xtl, ytl=ytl,
          ylabel="Standardized Log-Rank Statistic", ylab_px=ylab_px, xlabel="mRNA", xlab_gap=14)


def surv_at(steps, times):
    t, s = unzip(steps)
    idx = np.searchsorted(t, times, side="right") - 1
    return np.array(s)[idx]


def draw_km(box, gene, cut, pval, km_high, ci_high, cens_high, km_low, ci_low, cens_low, xlim,
            ylab_px=12):
    ax = add_ax(box)
    for ci, col in ((ci_high, RED), (ci_low, CYAN)):
        bt = [c[0] for c in ci]
        ax.fill_between(bt, [c[1] for c in ci], [c[2] for c in ci], step="post",
                        color=col, alpha=0.3, lw=0, zorder=1)
    for km, cens, col in ((km_high, cens_high, RED), (km_low, cens_low, CYAN)):
        t, s = unzip(km)
        ax.step(t, s, where="post", color=col, lw=1.1, zorder=3)
        ax.plot(cens, surv_at(km, cens), ls="none", marker="+", ms=4.5, mew=0.8, color=col, zorder=3)
    ax.text(0.032, 0.21, f"$P$ = {pval}", transform=ax.get_yaxis_transform(), fontsize=8,
            ha="left", va="center", zorder=4)
    handles = [(Patch(fc=RED, alpha=0.3, lw=0), Line2D([], [], color=RED, lw=1.1, marker="+", ms=5)),
               (Patch(fc=CYAN, alpha=0.3, lw=0), Line2D([], [], color=CYAN, lw=1.1, marker="+", ms=5))]
    ax.legend(handles, [f"{gene} High", f"{gene} Low"], title=f"Cutoff: {cut:g}", loc="upper left",
              bbox_to_anchor=(0.635, 0.925), frameon=False, fontsize=6.6, title_fontsize=6.4,
              handlelength=1.7, handleheight=1.2, handletextpad=0.3, labelspacing=0.15,
              borderpad=0, borderaxespad=0, alignment="left")
    frame(ax, box, "Kaplan meier survival estimates", xlim, (-0.05, 1.055), [0, 50, 100],
          [0, 0.25, 0.5, 0.75, 1.0], ytl=["0%", "25%", "50%", "75%", "100%"], ylabel="Surviving",
          ylab_px=ylab_px, xlabel="Survival time (Months)", xlab_gap=13)


# ── Layout (pixel boxes: left, top, right, bottom) ───────────────────────────
LX = (44, 348)
RX = (404, 707)
ROWS = [
    (48, 182, 226, 358, 403, 535),
    (620, 754, 798, 930, 975, 1108),
    (1166, 1320, 1368, 1508, 1556, 1686),
]
HEAD_Y = [14, 595, 1141]


def box(col, t, b):
    return (col[0], t, col[1], b)


for i, gene in enumerate(GENES):
    fig.text(9 / W, 1 - (HEAD_Y[i] - 2) / H, "ABC"[i], fontsize=13, weight="bold", ha="center", va="center")
    fig.text(197 / W, 1 - HEAD_Y[i] / H, f"{gene} (CGGA)", family="Liberation Serif", weight="bold",
             fontsize=7.6, ha="center", va="center")
    fig.text(543 / W, 1 - HEAD_Y[i] / H, f"{gene} (TCGA)", family="Liberation Serif", weight="bold",
             fontsize=7.6, ha="center", va="center")

# Section A: CDC20
r = ROWS[0]
draw_dist(box(LX, r[0], r[1]), A1_BINW, A1_LOW0, A1_LOW, A1_HIGH0, A1_HIGH, A1_DENS_LOW, A1_DENS_HIGH,
          (0.76, 5.77), (-3, 59), [1, 2, 3, 4, 5], [0, 20, 40])
draw_dist(box(RX, r[0], r[1]), A2_BINW, A2_LOW0, A2_LOW, A2_HIGH0, A2_HIGH, A2_DENS_LOW, A2_DENS_HIGH,
          (5.24, 8.81), (-9.5, 198), [6, 7, 8], [0, 50, 100, 150], ylab_px=367)
draw_maxstat(box(LX, r[2], r[3]), A1_CUT, A1_MS_LOW, A1_MS_HIGH, (0.856, 5.72), (-0.13, 3.29),
             [1, 2, 3, 4, 5], [0, 1, 2, 3])
draw_maxstat(box(RX, r[2], r[3]), A2_CUT, A2_MS_LOW, A2_MS_HIGH, (5.26, 8.71), (-0.17, 3.15),
             [6, 7, 8], [0, 1, 2, 3], ylab_px=365, text_y=0.48)
draw_km(box(LX, r[4], r[5]), "CDC20", A1_CUT, P_VALUES[0][0], A1_KM_HIGH, A1_CI_HIGH, A1_CENS_HIGH,
        A1_KM_LOW, A1_CI_LOW, A1_CENS_LOW, (-7.2, 142.8))
draw_km(box(RX, r[4], r[5]), "CDC20", A2_CUT, P_VALUES[0][1], A2_KM_HIGH, A2_CI_HIGH, A2_CENS_HIGH,
        A2_KM_LOW, A2_CI_LOW, A2_CENS_LOW, (-6.0, 134.0), ylab_px=365)

# Section B: CCNB2
r = ROWS[1]
draw_dist(box(LX, r[0], r[1]), B1_BINW, B1_LOW0, B1_LOW, B1_HIGH0, B1_HIGH, B1_DENS_LOW, B1_DENS_HIGH,
          (-0.29, 4.68), (-3.1, 66.4), [0, 1, 2, 3, 4], [0, 20, 40, 60])
draw_dist(box(RX, r[0], r[1]), B2_BINW, B2_LOW0, B2_LOW, B2_HIGH0, B2_HIGH, B2_DENS_LOW, B2_DENS_HIGH,
          (5.95, 9.48), (-12, 228), [6, 7, 8, 9], [0, 50, 100, 150, 200], ylab_px=367)
draw_maxstat(box(LX, r[2], r[3]), B1_CUT, B1_MS_LOW, B1_MS_HIGH, (-0.285, 4.53), (-0.11, 3.09),
             [0, 1, 2, 3, 4], [0, 1, 2, 3], text_y=0.51)
draw_maxstat(box(RX, r[2], r[3]), B2_CUT, B2_MS_LOW, B2_MS_HIGH, (5.955, 9.336), (-0.13, 3.18),
             [6, 7, 8, 9], [0, 1, 2, 3], ylab_px=365, text_y=0.5)
draw_km(box(LX, r[4], r[5]), "CCNB2", B1_CUT, P_VALUES[1][0], B1_KM_HIGH, B1_CI_HIGH, B1_CENS_HIGH,
        B1_KM_LOW, B1_CI_LOW, B1_CENS_LOW, (-6.9, 142.6))
draw_km(box(RX, r[4], r[5]), "CCNB2", B2_CUT, P_VALUES[1][1], B2_KM_HIGH, B2_CI_HIGH, B2_CENS_HIGH,
        B2_KM_LOW, B2_CI_LOW, B2_CENS_LOW, (-5.7, 133.8), ylab_px=365)

# Section C: MYBL2
r = ROWS[2]
draw_dist(box(LX, r[0], r[1]), C1_BINW, C1_LOW0, C1_LOW, C1_HIGH0, C1_HIGH, C1_DENS_LOW, C1_DENS_HIGH,
          (0.02, 5.18), (-2.6, 53), [0, 1, 2, 3, 4, 5], [0, 10, 20, 30, 40, 50])
draw_dist(box(RX, r[0], r[1]), C2_BINW, C2_LOW0, C2_LOW, C2_HIGH0, C2_HIGH, C2_DENS_LOW, C2_DENS_HIGH,
          (4.49, 6.30), (-19, 385), [4.5, 5.0, 5.5, 6.0], [0, 100, 200, 300],
          xtl=["4.5", "5.0", "5.5", "6.0"], ylab_px=367)
draw_maxstat(box(LX, r[2], r[3]), C1_CUT, C1_MS_LOW, C1_MS_HIGH, (0.12, 5.18), (-0.15, 3.25),
             [1, 2, 3, 4, 5], [0, 1, 2, 3], text_y=0.45)
draw_maxstat(box(RX, r[2], r[3]), C2_CUT, C2_MS_LOW, C2_MS_HIGH, (4.54, 6.28), (-0.12, 2.47),
             [5.0, 5.5, 6.0], [0, 0.5, 1.0, 1.5, 2.0], xtl=["5.0", "5.5", "6.0"],
             ytl=["0.0", "0.5", "1.0", "1.5", "2.0"], ylab_px=365, text_y=0.55)
draw_km(box(LX, r[4], r[5]), "MYBL2", C1_CUT, P_VALUES[2][0], C1_KM_HIGH, C1_CI_HIGH, C1_CENS_HIGH,
        C1_KM_LOW, C1_CI_LOW, C1_CENS_LOW, (-6.8, 142.8))
draw_km(box(RX, r[4], r[5]), "MYBL2", C2_CUT, P_VALUES[2][1], C2_KM_HIGH, C2_CI_HIGH, C2_CENS_HIGH,
        C2_KM_LOW, C2_CI_LOW, C2_CENS_LOW, (-6.4, 134.4), ylab_px=365)

fig.savefig("out.png", dpi=100)
